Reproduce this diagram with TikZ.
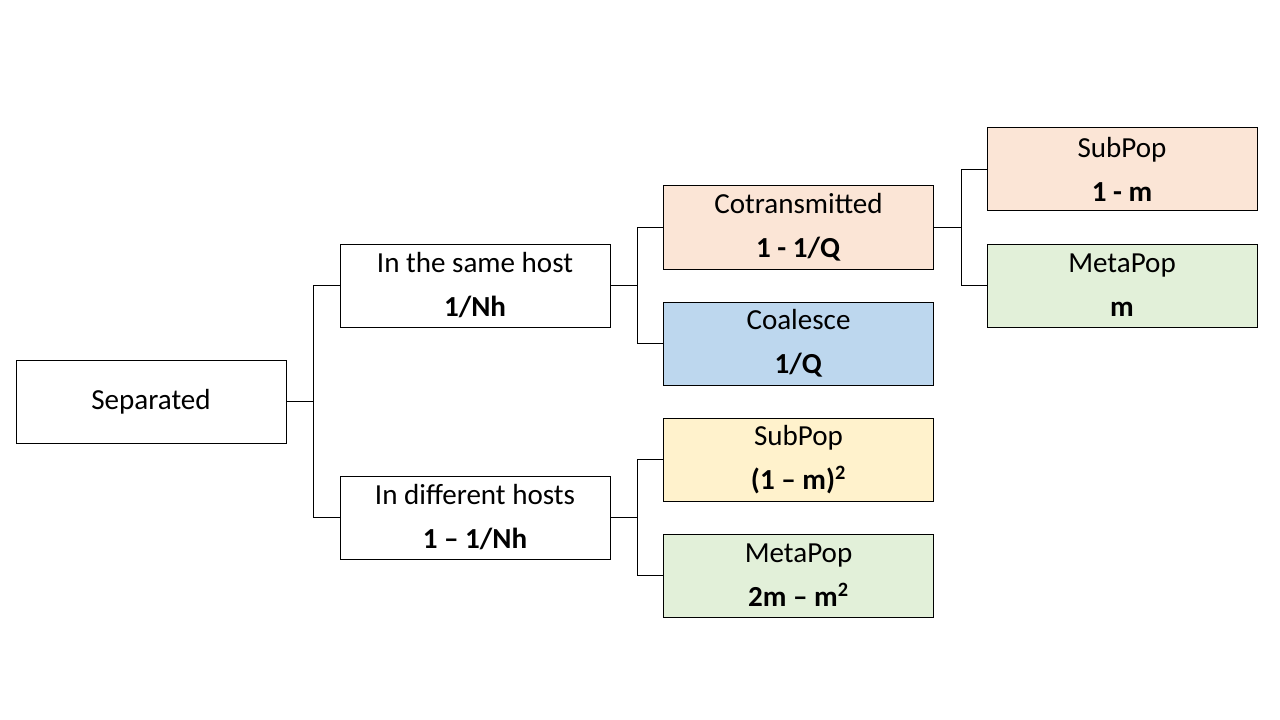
\documentclass[tikz,border=0pt]{standalone}
\usepackage{fontspec}
\setmainfont{Carlito}
\usepackage{tikz}
\usetikzlibrary{calc}

\definecolor{peach}{HTML}{FBE5D6}
\definecolor{skyblue}{HTML}{BDD7EE}
\definecolor{cream}{HTML}{FFF2CC}
\definecolor{mint}{HTML}{E2F0D9}

\begin{document}
\begin{tikzpicture}[x=0.75pt,y=-0.75pt]
            \tikzstyle{every node}=[draw, line width=0.75pt, minimum width=202.5pt, minimum height=62.25pt, inner sep=0pt, align=center, font=\fontsize{21.8}{33}\selectfont]
            \useasboundingbox (0,0) rectangle (1280,720);
            \node (sep) at (151,401.5) {Separated};
            \node (same) at (475,285.5) {In the same host\\\textbf{1/Nh}};
            \node (diff) at (475,517.5) {In different hosts\\\textbf{1 – 1/Nh}};
            \draw (sep.east)--++(27,0) |- (same.west);
            \draw (sep.east)--++(27,0) |- (diff.west);
            % Same host
            \node[fill=peach] (cot) at (798.5,227.5) {Cotransmitted\\\textbf{1 - 1/Q}};
            \node[fill=skyblue] (coal) at (798.5,343.5) {Coalesce\\\textbf{1/Q}};
            \draw (same.east)--++(27,0) |- (cot.west);
            \draw (same.east)--++(27,0) |- (coal.west);
            % Different hosts
            \node[fill=cream] (sub2) at (798.5,459.5) {SubPop\\\textbf{(1 – m)\textsuperscript{2}}};
            \node[fill=mint] (meta2) at (798.5,575.5) {MetaPop\\\textbf{2m – m\textsuperscript{2}}};
            \draw[line width=1.2pt] (diff.east)--++(27,0);
            \draw (diff.east)++(27,0) |- (sub2.west);
            \draw (diff.east)++(27,0) |- (meta2.west);
            % Cotransmitted
            \node[fill=peach] (sub1) at (1122,169.5) {SubPop\\\textbf{1 - m}};
            \node[fill=mint] (meta1) at (1122,285.5) {MetaPop\\\textbf{m}};
            \draw (cot.east)--++(27,0) |- (sub1.west);
            \draw (cot.east)--++(27,0) |- (meta1.west);
\end{tikzpicture}
\end{document}
